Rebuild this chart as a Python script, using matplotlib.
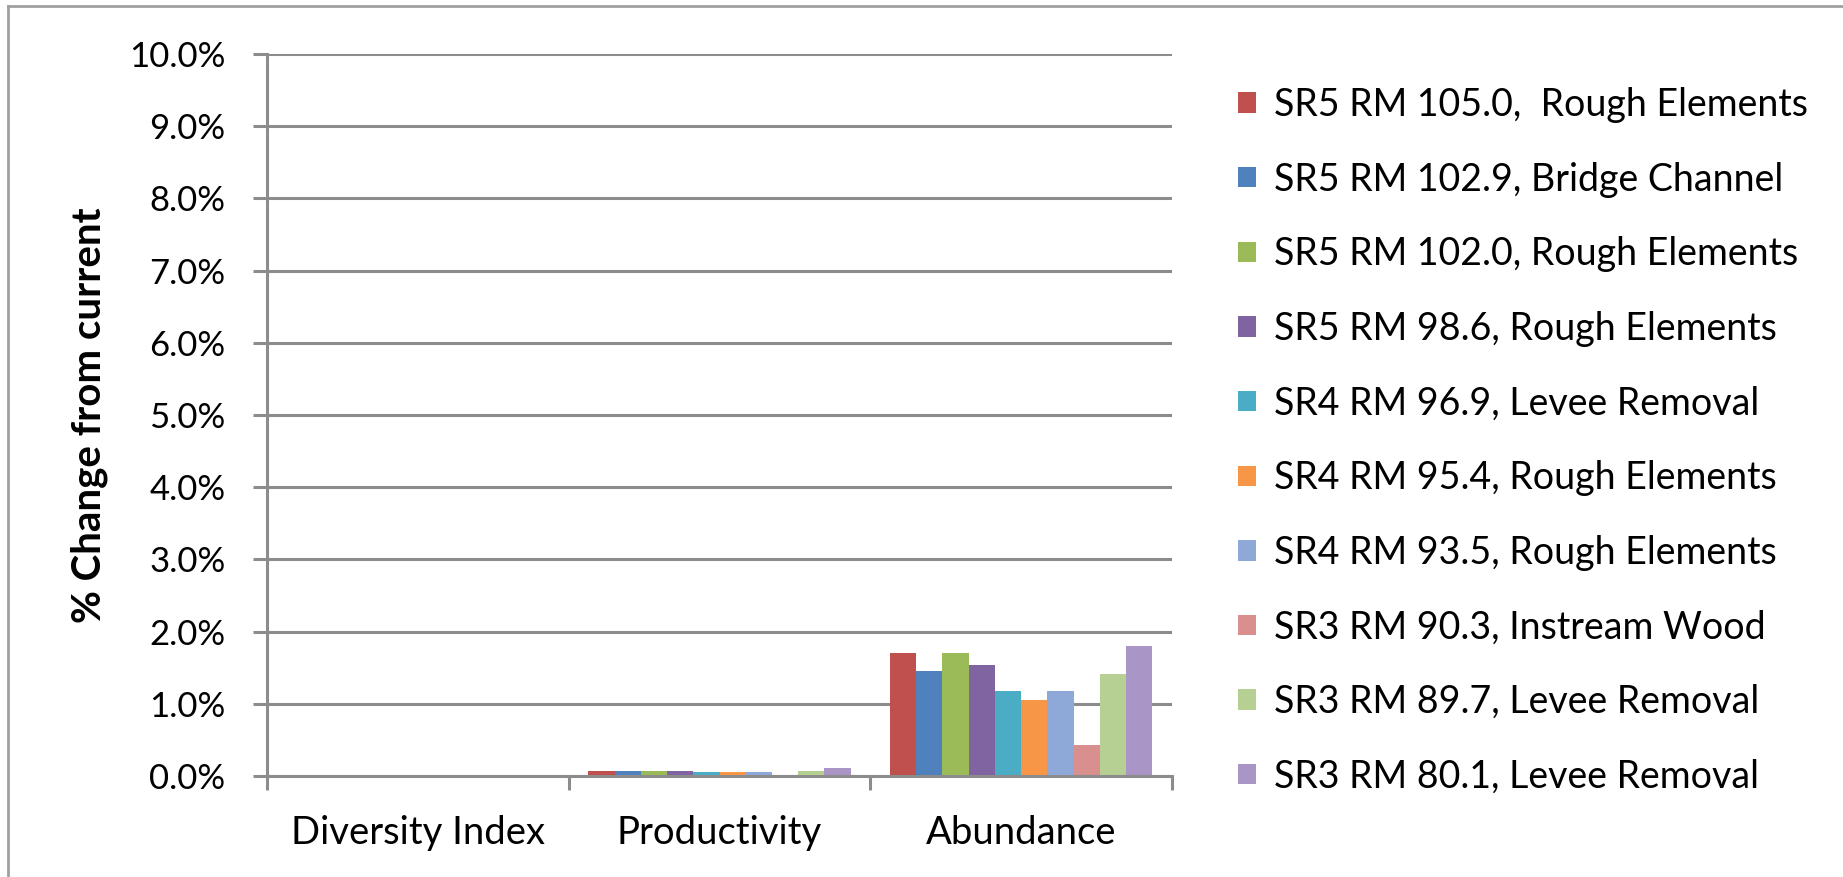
import matplotlib
matplotlib.use('Agg')
import matplotlib.pyplot as plt
import numpy as np
from matplotlib.lines import Line2D
from matplotlib.ticker import FuncFormatter, FixedLocator

plt.rcParams['font.family'] = ['Lato', 'DejaVu Sans']

categories = ['Diversity Index', 'Productivity', 'Abundance']

series_names = [
    'SR5 RM 105.0,  Rough Elements',
    'SR5 RM 102.9, Bridge Channel',
    'SR5 RM 102.0, Rough Elements',
    'SR5 RM 98.6, Rough Elements',
    'SR4 RM 96.9, Levee Removal',
    'SR4 RM 95.4, Rough Elements',
    'SR4 RM 93.5, Rough Elements',
    'SR3 RM 90.3, Instream Wood',
    'SR3 RM 89.7, Levee Removal',
    'SR3 RM 80.1, Levee Removal',
]

# % change per series: [diversity, productivity, abundance]
sr5_105_0 = [0.0, 0.065, 1.71]
sr5_102_9 = [0.0, 0.065, 1.45]
sr5_102_0 = [0.0, 0.065, 1.71]
sr5_98_6 = [0.0, 0.065, 1.54]
sr4_96_9 = [0.0, 0.055, 1.17]
sr4_95_4 = [0.0, 0.055, 1.05]
sr4_93_5 = [0.0, 0.050, 1.17]
sr3_90_3 = [0.0, 0.0, 0.43]
sr3_89_7 = [0.0, 0.070, 1.41]
sr3_80_1 = [0.0, 0.115, 1.80]

values = [sr5_105_0, sr5_102_9, sr5_102_0, sr5_98_6, sr4_96_9,
          sr4_95_4, sr4_93_5, sr3_90_3, sr3_89_7, sr3_80_1]

colors = ['#C0504D', '#4F81BD', '#9BBB59', '#8064A2', '#4BACC6',
          '#F79646', '#8EA9D8', '#D98F8D', '#B6CF92', '#A996C6']

grey = '#8C8C8C'

fig = plt.figure(figsize=(18.43, 8.77), dpi=100)
ax = fig.add_axes([0.1449, 0.1152, 0.4910, 0.8233])

x = np.arange(len(categories))
n = len(values)
w = 0.087
for i, (vals, c) in enumerate(zip(values, colors)):
    ax.bar(x + (i - (n - 1) / 2) * w, vals, width=w, color=c,
           label=series_names[i], zorder=3)

ax.set_xlim(-0.5, len(categories) - 0.5)
ax.set_ylim(0, 10)
ax.set_yticks(np.arange(0, 10.5, 1))
ax.yaxis.set_major_formatter(FuncFormatter(lambda v, p: f'{v:.1f}%'))
ax.grid(axis='y', color=grey, linewidth=2.2, zorder=0)

ax.set_xticks(x)
ax.set_xticklabels(categories)
ax.xaxis.set_minor_locator(FixedLocator(np.arange(-0.5, len(categories), 1)))
ax.tick_params(axis='x', which='major', length=0, pad=28, labelsize=27.5)
ax.tick_params(axis='x', which='minor', length=10, width=2.2, color=grey)
ax.tick_params(axis='y', length=10, width=2.2, color=grey, pad=20, labelsize=25)

for s in ['top', 'right']:
    ax.spines[s].set_visible(False)
for s in ['left', 'bottom']:
    ax.spines[s].set_color(grey)
    ax.spines[s].set_linewidth(2.2)
    ax.spines[s].set_zorder(4)

ax.set_ylabel('% Change from current', fontsize=29, fontweight='bold', labelpad=15)

ax.legend(loc='upper left', bbox_to_anchor=(0.6719, 0.9008),
          bbox_transform=fig.transFigure, frameon=False, fontsize=27,
          handlelength=0.46, handleheight=0.46, handletextpad=0.48,
          labelspacing=1.03, borderaxespad=0, borderpad=0)

# chart area border
fig.add_artist(Line2D([0.0045, 0.0045], [0.0, 0.993], color='#A0A0A0',
                      linewidth=2, transform=fig.transFigure))
fig.add_artist(Line2D([0.0045, 1.0], [0.993, 0.993], color='#A0A0A0',
                      linewidth=2, transform=fig.transFigure))

fig.savefig('out.png', dpi=100)
